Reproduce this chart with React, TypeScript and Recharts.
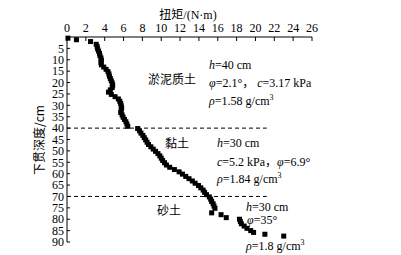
import { ScatterChart, Scatter, XAxis, YAxis, ReferenceLine } from "recharts";

const depth = [
  0.5, 1.2, 2.0, 3.2, 4.2, 5.2, 6.2, 7.2, 8.2, 9.2, 10.2, 11.2, 12.2, 13.2, 14.2,
  15.2, 16.2, 17.2, 18.2, 19.2, 20.2, 21.2, 22.2, 23.2, 24.2, 25.2, 26.2, 27.2,
  28.2, 29.2, 30.2, 31.2, 32.2, 33.2, 34.2, 35.2, 36.2, 37.2, 38.2, 39.2, 40.2,
  41.2, 42.2, 43.2, 44.2, 45.2, 46.2, 47.2, 48.2, 49.2, 50.2, 51.2, 52.2, 53.2,
  54.2, 55.2, 56.2, 57.2, 58.2, 59.2, 60.2, 61.2, 62.2, 63.2, 64.2, 65.2, 66.2,
  67.2, 68.2, 69.2, 70.2, 71.2, 72.2, 73.2, 74.2, 75.2, 77.2, 78.0, 79.3, 80.0,
  81.0, 82.0, 83.0, 84.0, 85.0, 85.8, 86.6, 87.4,
];
const torque = [
  0.1, 1.0, 2.5, 3.1, 3.2, 3.25, 3.35, 3.45, 3.5, 3.6, 3.65, 3.6, 3.65, 3.9, 4.15,
  4.35, 4.45, 4.5, 4.6, 4.7, 4.8, 4.85, 4.8, 4.6, 4.4, 4.7, 5.1, 5.45,
  5.6, 5.7, 5.75, 5.8, 5.75, 5.7, 5.85, 5.95, 6.1, 6.25, 6.35, 6.45, 7.5,
  7.7, 7.85, 8.05, 8.2, 8.35, 8.5, 8.65, 8.9, 9.15, 9.4, 9.65, 9.85, 10.0,
  10.15, 10.35, 10.55, 10.9, 11.4, 11.9, 12.25, 12.6, 12.95, 13.3, 13.6, 13.95, 14.2,
  14.45, 14.6, 14.8, 15.1, 15.25, 15.35, 15.5, 15.6, 15.7, 15.35, 16.35, 16.9, 18.3,
  18.4, 18.5, 18.8, 19.1, 19.5, 19.8, 21.0, 23.0,
];
const xTicks = [0, 2, 4, 6, 8, 10, 12, 14, 16, 18, 20, 22, 24, 26];
const yTicks = [5, 10, 15, 20, 25, 30, 35, 40, 45, 50, 55, 60, 65, 70, 75, 80, 85, 90];
const layerBounds = [40, 70];

const points = depth.map((d, i) => ({ torque: torque[i], depth: d }));

const font = '"Liberation Serif", "Noto Sans CJK SC", serif';
const cjk = '"Noto Sans CJK SC", sans-serif';

const Square = (props: any) => {
  const { cx, cy } = props;
  return <rect x={cx - 2.5} y={cy - 2.5} width={5} height={5} fill="#000" />;
};

const Cm3 = () => (
  <>
    g/cm<tspan dy={-5} fontSize={8}>3</tspan>
  </>
);

export default function App() {
  return (
    <div style={{ position: "absolute", left: 0, top: 0, width: 401, height: 255, background: "#fff" }}>
      <ScatterChart
        width={401}
        height={255}
        margin={{ top: 7, right: 89, bottom: 13, left: 7 }}
      >
        <XAxis
          type="number"
          dataKey="torque"
          orientation="top"
          height={30}
          domain={[0, 26]}
          ticks={xTicks}
          interval={0}
          tickSize={-4}
          tickMargin={9}
          axisLine={{ stroke: "#000" }}
          tickLine={{ stroke: "#000" }}
          tick={{ fontSize: 12, fill: "#000", fontFamily: font }}
        />
        <YAxis
          type="number"
          dataKey="depth"
          reversed
          width={60}
          domain={[0, 90]}
          ticks={yTicks}
          interval={0}
          tickSize={-3}
          tickMargin={6}
          axisLine={{ stroke: "#000" }}
          tickLine={{ stroke: "#000" }}
          tick={{ fontSize: 12, fill: "#000", fontFamily: font }}
        />
        <ReferenceLine
          segment={[{ x: 0, y: layerBounds[0] }, { x: 21.2, y: layerBounds[0] }]}
          stroke="#000"
          strokeDasharray="4 3"
        />
        <ReferenceLine
          segment={[{ x: 0, y: layerBounds[1] }, { x: 21.2, y: layerBounds[1] }]}
          stroke="#000"
          strokeDasharray="4 3"
        />
        <Scatter data={points} shape={<Square />} isAnimationActive={false} />
      </ScatterChart>
      <svg
        width={401}
        height={255}
        style={{ position: "absolute", left: 0, top: 0, pointerEvents: "none" }}
        fontFamily={font}
        fontSize={12}
        fill="#000"
      >
        <text x={188} y={19} textAnchor="middle">
          <tspan fontFamily={cjk}>扭矩</tspan>/(N·m)
        </text>
        <text x={0} y={0} textAnchor="middle" fontFamily={cjk} transform="translate(44,140) rotate(-90)">
          下贯深度/cm
        </text>

        <text x={148} y={84} fontFamily={cjk}>淤泥质土</text>
        <text x={209} y={69}><tspan fontStyle="italic">h</tspan>=40 cm</text>
        <text x={209} y={87}>
          <tspan fontStyle="italic">φ</tspan>=2.1°，  <tspan fontStyle="italic">c</tspan>=3.17 kPa
        </text>
        <text x={209} y={105}><tspan fontStyle="italic">ρ</tspan>=1.58 <Cm3 /></text>

        <text x={165} y={148} fontFamily={cjk}>黏土</text>
        <text x={217} y={147}><tspan fontStyle="italic">h</tspan>=30 cm</text>
        <text x={217} y={166}>
          <tspan fontStyle="italic">c</tspan>=5.2 kPa，<tspan fontStyle="italic">φ</tspan>=6.9°
        </text>
        <text x={217} y={183}><tspan fontStyle="italic">ρ</tspan>=1.84 <Cm3 /></text>

        <text x={157} y={215} fontFamily={cjk}>砂土</text>
        <text x={246} y={211}><tspan fontStyle="italic">h</tspan>=30 cm</text>
        <text x={247} y={224}><tspan fontStyle="italic">φ</tspan>=35°</text>
        <text x={246} y={250}><tspan fontStyle="italic">ρ</tspan>=1.8 <Cm3 /></text>
      </svg>
    </div>
  );
}
